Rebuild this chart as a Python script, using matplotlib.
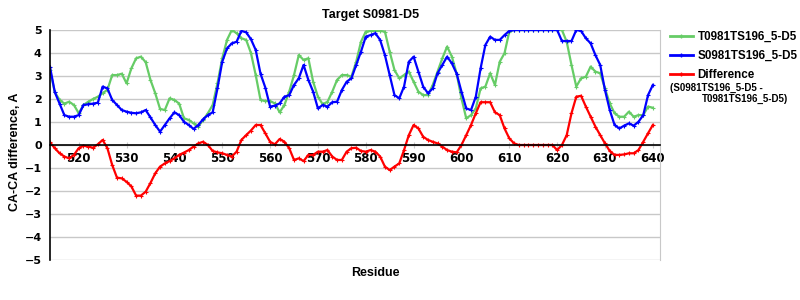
import matplotlib
matplotlib.use("Agg")
import matplotlib.pyplot as plt
from matplotlib.lines import Line2D

residues = list(range(514, 641))

target = [3.26, 2.3, 1.96, 1.8, 1.88, 1.74, 1.38, 1.74, 1.88, 2.0,
          2.1, 2.25, 2.4, 3.04, 3.04, 3.1, 2.68, 3.33, 3.77, 3.84,
          3.6, 2.83, 2.25, 1.57, 1.52, 2.03, 1.96, 1.8, 1.16, 1.09,
          0.94, 0.8, 1.09, 1.38, 1.74, 2.68, 3.77, 4.57, 5.0, 4.86,
          4.64, 4.57, 4.0, 3.04, 1.96, 1.91, 1.91, 1.81, 1.42, 1.74,
          2.32, 3.04, 3.91, 3.7, 3.77, 2.75, 2.1, 1.77, 1.88, 2.32,
          2.83, 3.04, 3.04, 2.97, 3.62, 4.49, 4.93, 4.96, 4.96, 4.96,
          4.93, 4.06, 3.26, 2.9, 3.04, 3.19, 2.75, 2.32, 2.17, 2.17,
          2.61, 3.19, 3.77, 4.28, 3.84, 3.1, 2.03, 1.16, 1.3, 1.59,
          2.46, 2.54, 3.12, 2.61, 3.62, 3.99, 4.93, 5.0, 5.0, 5.0,
          5.0, 5.0, 5.0, 5.0, 5.0, 5.0, 5.0, 5.0, 4.49, 3.48,
          2.54, 2.9, 2.97, 3.41, 3.19, 3.12, 2.46, 1.81, 1.38, 1.23,
          1.23, 1.45, 1.23, 1.3, 1.3, 1.67, 1.62]

model = [3.4, 2.3, 1.8, 1.3, 1.23, 1.23, 1.3, 1.74, 1.77, 1.8,
         1.84, 2.54, 2.46, 1.96, 1.74, 1.52, 1.45, 1.4, 1.38, 1.42,
         1.52, 1.2, 0.87, 0.58, 0.87, 1.16, 1.42, 1.3, 1.01, 0.87,
         0.7, 0.87, 1.12, 1.3, 1.42, 2.46, 3.62, 4.2, 4.42, 4.49,
         4.96, 4.9, 4.6, 4.13, 3.1, 2.5, 1.67, 1.71, 1.81, 2.1,
         2.17, 2.61, 2.9, 3.48, 2.83, 2.32, 1.59, 1.74, 1.67, 1.86,
         1.88, 2.39, 2.75, 2.9, 3.48, 4.06, 4.71, 4.78, 4.86, 4.57,
         3.91, 3.04, 2.17, 2.03, 2.54, 3.62, 3.84, 3.19, 2.54, 2.25,
         2.46, 3.12, 3.48, 3.84, 3.55, 3.1, 2.32, 1.59, 1.52, 2.1,
         3.33, 4.35, 4.71, 4.57, 4.57, 4.78, 4.96, 5.0, 5.0, 5.0,
         5.0, 5.0, 5.0, 5.0, 5.0, 5.0, 5.0, 4.52, 4.52, 4.52,
         5.0, 4.96, 4.64, 4.42, 3.91, 3.48, 2.39, 1.52, 0.87, 0.72,
         0.84, 0.94, 0.84, 1.01, 1.3, 2.17, 2.61]

difference = [0.12, -0.14, -0.36, -0.5, -0.58, -0.43, -0.14, -0.03, -0.07, -0.12,
              0.03, 0.22, -0.14, -0.87, -1.42, -1.45, -1.6, -1.8, -2.2, -2.2,
              -2.03, -1.65, -1.23, -0.94, -0.8, -0.7, -0.58, -0.43, -0.33, -0.22,
              -0.07, 0.07, 0.14, 0.0, -0.26, -0.32, -0.36, -0.43, -0.5, -0.29,
              0.22, 0.43, 0.63, 0.87, 0.87, 0.51, 0.14, 0.03, 0.26, 0.14,
              -0.14, -0.65, -0.58, -0.7, -0.43, -0.43, -0.29, -0.29, -0.22, -0.5,
              -0.65, -0.65, -0.29, -0.14, -0.12, -0.26, -0.29, -0.22, -0.29, -0.5,
              -0.94, -1.09, -0.94, -0.8, -0.22, 0.43, 0.87, 0.72, 0.36, 0.22,
              0.14, 0.07, -0.07, -0.22, -0.29, -0.32, 0.0, 0.43, 0.87, 1.38,
              1.86, 1.86, 1.86, 1.42, 1.3, 0.72, 0.29, 0.07, 0.0, 0.0,
              0.0, 0.0, 0.0, 0.0, 0.0, 0.0, -0.22, 0.0, 0.43, 1.38,
              2.1, 2.14, 1.67, 1.23, 0.8, 0.43, 0.07, -0.26, -0.43, -0.43,
              -0.41, -0.36, -0.36, -0.22, 0.14, 0.51, 0.87]

x_ticks = [520, 530, 540, 550, 560, 570, 580, 590, 600, 610, 620, 630, 640]
y_ticks = [-5, -4, -3, -2, -1, 0, 1, 2, 3, 4, 5]

title = "Target S0981-D5"
label_t = "T0981TS196_5-D5"
label_s = "S0981TS196_5-D5"
label_d = "Difference"
label_d_sub1 = "(S0981TS196_5-D5 -"
label_d_sub2 = "T0981TS196_5-D5)"

GREEN = "#66cc66"
BLUE = "#0000ff"
RED = "#ff0000"

plt.rcParams['font.family'] = ['DejaVu Sans']
plt.rcParams['font.weight'] = 'bold'
LAB = 'Liberation Sans'

fig = plt.figure(figsize=(8, 3), dpi=100)
ax = fig.add_axes([50/800, 40/300, 610/800, 230/300])

kw = dict(lw=1.6, marker='+', markersize=3, markeredgewidth=0.8)
ax.plot(residues, target, color=GREEN, **kw)
ax.plot(residues, model, color=BLUE, **kw)
ax.plot(residues, difference, color=RED, **kw)

ax.set_xlim(514, 641.5)
ax.set_ylim(-5, 5)
ax.set_yticks(y_ticks)
ax.set_xticks(x_ticks)
ax.yaxis.grid(True, color='#c8c8c8', lw=1)
ax.set_axisbelow(True)

ax.spines['bottom'].set_position(('data', 0))
ax.spines['bottom'].set_color('black')
ax.spines['bottom'].set_linewidth(1.2)
ax.spines['left'].set_color('black')
ax.spines['left'].set_linewidth(1.2)
ax.spines['top'].set_visible(False)
ax.spines['right'].set_color('#c8c8c8')

ax.tick_params(axis='y', length=0, pad=6, labelsize=8)
ax.tick_params(axis='x', length=4, direction='inout', color='#c8c8c8', pad=3, labelsize=8.5)
for lab in ax.get_xticklabels() + ax.get_yticklabels():
    lab.set_fontweight('bold')

ax.set_ylabel("CA-CA difference, A", fontsize=9, fontweight='bold', family=LAB)
ax.yaxis.set_label_coords(-29/610, (260 - 152)/230)
fig.text(375/800, 1 - 273/300, "Residue", ha='center', va='center', fontsize=9,
         fontweight='bold', family=LAB)
fig.text(371/800, 1 - 15/300, title, ha='center', va='center', fontsize=9,
         fontweight='bold', family=LAB)

handles = [Line2D([], [], color=GREEN, lw=2, marker='+', markersize=3),
           Line2D([], [], color=BLUE, lw=2, marker='+', markersize=3),
           Line2D([], [], color=RED, lw=2, marker='+', markersize=3)]
leg = fig.legend(handles, [label_t, label_s, label_d], loc='upper left',
                 bbox_to_anchor=(665/800, 1 - 26/300), frameon=False,
                 prop={'size': 8.4, 'weight': 'bold', 'family': LAB}, handlelength=2.0,
                 handletextpad=0.4, labelspacing=0.62, borderaxespad=0)
fig.text(670/800, 1 - 88/300, label_d_sub1, ha='left', va='center',
         fontsize=7.0, fontweight='bold', family=LAB)
fig.text(702/800, 1 - 98.5/300, label_d_sub2, ha='left', va='center',
         fontsize=7.0, fontweight='bold', family=LAB)

fig.savefig("out.png", dpi=100)
